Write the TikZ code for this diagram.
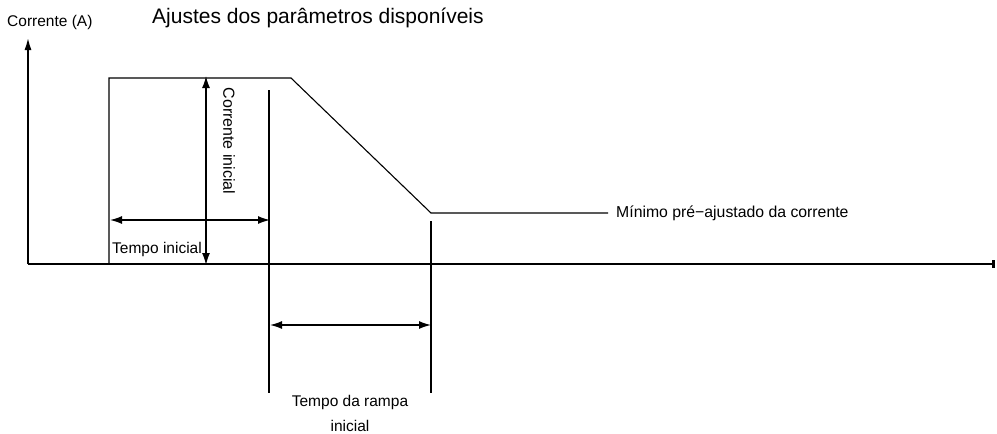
\documentclass[tikz,border=0pt]{standalone}
\usepackage{fontspec}
\setmainfont{Liberation Sans}
\usetikzlibrary{arrows.meta}
\begin{document}
\begin{tikzpicture}[x=1pt,y=-1pt,
  thinline/.style={line width=1.1pt},
  axisline/.style={line width=2.2pt},
  dimarrow/.style={line width=1.4pt,{Latex[length=12pt,width=8pt]}-{Latex[length=12pt,width=8pt]}},
  lbl/.style={inner sep=0pt,font=\fontsize{15.5}{18}\selectfont}]
\useasboundingbox (0,0) rectangle (997,434);
% axes
\coordinate (o) at (28,264);
\coordinate (ytop) at (28,37);
\coordinate (xend) at (995,264);
\draw[axisline,-{Latex[length=13pt,width=7pt]}] (o) -- (ytop);
\draw[axisline,-{Bar[width=8pt,line width=2.8pt]}] (o) -- (xend);
\node[lbl,anchor=west] (ylab) at (7,22) {Corrente (A)};
\node[lbl,font=\fontsize{21}{24}\selectfont,anchor=west] (title) at (152,18) {Ajustes dos parâmetros disponíveis};
% profile
\coordinate (p0) at (109,264);
\coordinate (p1) at (109,78);
\coordinate (p2) at (291,78);
\coordinate (p3) at (431,213);
\coordinate (p4) at (608,213);
\draw[thinline] (p0) -- (p1) -- (p2) -- (p3) -- (p4);
\node[lbl,font=\fontsize{15.8}{18}\selectfont,anchor=west] (minlab) at (616,213) {Mínimo pré−ajustado da corrente};
% vertical guide lines
\coordinate (g1t) at (269,90);
\coordinate (g1b) at (269,393);
\coordinate (g2t) at (431,221);
\coordinate (g2b) at (431,393);
\draw[thinline] (g1t) -- (g1b);
\draw[thinline] (g2t) -- (g2b);
% dimension arrows
\coordinate (ci1) at (206,76);
\coordinate (ci2) at (206,265);
\draw[dimarrow] (ci1) -- (ci2);
\node[lbl,font=\fontsize{16}{18}\selectfont,rotate=-90] (cilab) at (229,141) {Corrente inicial};
\coordinate (ti1) at (110,220);
\coordinate (ti2) at (270,220);
\draw[dimarrow] (ti1) -- (ti2);
\node[lbl,anchor=west] (tilab) at (112,249) {Tempo inicial};
\coordinate (tr1) at (270,325);
\coordinate (tr2) at (431,325);
\draw[dimarrow] (tr1) -- (tr2);
\node[lbl,align=center] (trlab) at (350,402) {Tempo da rampa};
\node[lbl,align=center] (trlab2) at (350,426) {inicial};
\end{tikzpicture}
\end{document}
